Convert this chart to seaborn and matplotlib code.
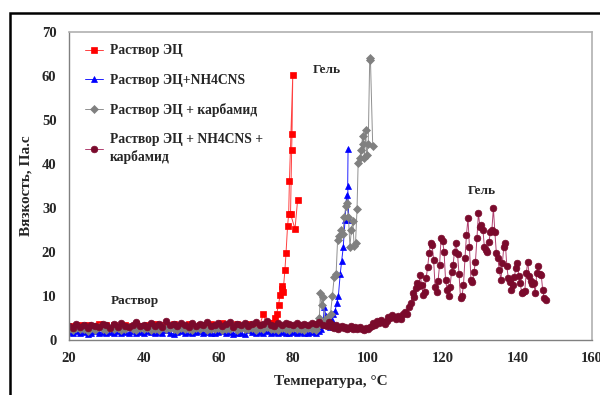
import matplotlib
matplotlib.use("Agg")
import matplotlib.pyplot as plt
from matplotlib.patches import Rectangle
import seaborn as sns
import pandas as pd

# ---------------- data ----------------
series_names = ["Раствор ЭЦ", "Раствор ЭЦ+NH4CNS", "Раствор ЭЦ + карбамид",
                "Раствор ЭЦ + NH4CNS +\nкарбамид"]

t_red = [20, 21, 22, 23, 24, 25, 26, 27, 28, 29,
         30, 31, 32, 33, 34, 35, 36, 37, 38, 39,
         40, 41, 42, 43, 44, 45, 46, 47, 48, 49,
         50, 51, 52, 53, 54, 55, 56, 57, 58, 59,
         60, 61, 62, 63, 64, 65, 66, 67, 68, 69,
         70, 71, 72, 73, 74,
         74.6, 75.1, 75.6, 76.1, 76.5, 76.9, 77.1, 77.3, 77.8, 78.1,
         78.5, 78.8, 79.0, 79.9, 79.7, 79.6, 79.3, 80.5, 81.2]
v_red = [2.6, 3.1, 2.4, 3.3, 2.8, 3.5, 2.7, 3.2, 3.6, 2.9,
         3.3, 2.6, 3.4, 3.0, 2.8, 3.5, 3.1, 2.7, 3.6, 3.2,
         2.9, 3.4, 3.0, 3.7, 2.8, 3.3, 3.5, 2.9, 3.6, 3.1,
         3.4, 2.8, 3.7, 3.2, 3.0, 3.5, 3.3, 2.9, 3.6, 3.1,
         3.4, 3.8, 3.0, 3.5, 3.2, 3.6, 2.9, 3.4, 3.7, 3.1,
         3.5, 3.3, 5.8, 3.6, 3.9,
         3.8, 5.0, 6.0, 8.0, 10.3, 11.5, 12.3, 10.8, 15.9, 19.8,
         25.8, 28.6, 36.0, 60.2, 46.8, 43.0, 28.6, 25.2, 31.8]

t_blue = [20, 21, 22, 23, 24, 25, 26, 27, 28, 29,
          30, 31, 32, 33, 34, 35, 36, 37, 38, 39,
          40, 41, 42, 43, 44, 45, 46, 47, 48, 49,
          50, 51, 52, 53, 54, 55, 56, 57, 58, 59,
          60, 61, 62, 63, 64, 65, 66, 67, 68, 69,
          70, 71, 72, 73, 74, 75, 76, 77, 78, 79,
          80, 81, 82, 83, 84, 85, 86, 87,
          87.5, 88.0, 88.3, 88.8, 89.3, 89.8, 90.3, 90.7, 91.2, 91.7,
          92.1, 92.6, 93.0, 93.4, 93.9, 94.3, 94.9, 94.6, 94.7]
v_blue = [1.8, 1.5, 2.0, 1.6, 1.9, 1.4, 1.7, 2.1, 1.6, 1.8,
          1.5, 1.9, 1.7, 2.0, 1.6, 1.8, 1.5, 2.1, 1.7, 1.9,
          1.6, 2.0, 1.8, 1.5, 1.9, 1.7, 2.2, 1.6, 1.4, 1.8,
          2.0, 1.7, 1.9, 1.5, 1.8, 2.1, 1.6, 1.9, 1.7, 1.5,
          1.8, 2.0, 1.6, 1.9, 1.4, 1.7, 1.5, 1.3, 2.2, 1.8,
          1.6, 1.9, 1.7, 2.0, 1.5, 1.8, 1.6, 1.9, 1.7, 1.5,
          1.8, 1.6, 1.9, 1.7, 1.5, 1.8, 1.6, 2.0,
          2.6, 3.5, 7.4, 5.5, 3.6, 3.0, 4.5, 6.0, 6.5, 8.5,
          9.9, 15.0, 18.0, 21.0, 27.3, 33.0, 27.3, 35.0, 43.4]

t_gray = [20, 21, 22, 23, 24, 25, 26, 27, 28, 29,
          30, 31, 32, 33, 34, 35, 36, 37, 38, 39,
          40, 41, 42, 43, 44, 45, 46, 47, 48, 49,
          50, 51, 52, 53, 54, 55, 56, 57, 58, 59,
          60, 61, 62, 63, 64, 65, 66, 67, 68, 69,
          70, 71, 72, 73, 74, 75, 76, 77, 78, 79,
          80, 81, 82, 83, 84, 85, 86,
          86.5, 87.0, 87.3, 87.6, 88.0, 88.5, 89.0, 89.5, 90.0, 90.5,
          91.0, 91.5, 91.9, 92.3, 92.8, 93.3, 93.7, 94.1, 94.4, 94.8,
          95.2, 95.6, 96.0, 96.3, 96.7, 97.1, 97.4, 97.8, 98.2, 98.6,
          98.8, 99.1, 99.4, 99.7, 100.1, 100.5, 100.7, 101.3]
v_gray = [2.5, 2.2, 2.8, 2.4, 2.6, 2.1, 2.7, 2.3, 2.9, 2.5,
          2.2, 2.7, 2.4, 2.8, 2.3, 2.6, 2.9, 2.4, 2.2, 2.7,
          2.5, 2.8, 2.3, 2.6, 2.2, 2.9, 2.4, 2.7, 2.5, 2.3,
          2.8, 2.4, 2.6, 2.2, 2.7, 2.5, 2.9, 2.3, 2.6, 2.4,
          2.8, 2.2, 2.6, 2.5, 2.9, 2.3, 2.7, 2.4, 2.6, 2.8,
          2.3, 2.7, 2.5, 2.9, 2.4, 2.6, 2.2, 2.8, 2.5, 2.3,
          2.7, 2.4, 2.6, 2.2, 2.8, 2.5, 2.3,
          3.0, 5.0, 10.6, 8.0, 9.8, 4.2, 5.0, 3.5, 6.0, 10.0,
          14.4, 15.0, 22.7, 23.5, 25.0, 24.0, 28.0, 30.3, 31.0, 28.0,
          21.2, 25.0, 27.0, 21.4, 22.0, 29.7, 40.2, 41.3, 43.0, 46.2,
          44.5, 41.4, 47.6, 42.0, 44.5, 64.0, 63.5, 44.0]

t_mar = [20, 21, 22, 23, 24, 25, 26, 27, 28, 29,
         30, 31, 32, 33, 34, 35, 36, 37, 38, 39,
         40, 41, 42, 43, 44, 45, 46, 47, 48, 49,
         50, 51, 52, 53, 54, 55, 56, 57, 58, 59,
         60, 61, 62, 63, 64, 65, 66, 67, 68, 69,
         70, 71, 72, 73, 74, 75, 76, 77, 78, 79,
         80, 81, 82, 83, 84, 85, 86, 87, 88,
         89, 89.5, 90, 90.5, 91, 91.5, 92, 92.5, 93, 93.5,
         94, 94.5, 95, 95.5, 96, 96.5, 97, 97.5, 98, 98.5,
         99, 99.5, 100, 100.5, 101, 101.5, 102, 102.5, 103, 103.5,
         104, 104.5, 105, 105.5, 106, 106.5, 107, 107.5, 108, 108.5,
         109, 109.5, 110, 110.5, 111, 111.5,
         112.0, 112.4, 112.8, 113.2, 113.6, 114.0, 114.4, 114.8, 115.2, 115.6,
         116.0, 116.4, 116.8, 117.2, 117.6, 118.0, 118.4, 118.8, 119.2, 119.6,
         120.0, 120.4, 120.8, 121.2, 121.6, 122.0, 122.4, 122.8, 123.2, 123.6,
         124.0, 124.4, 124.8, 125.2, 125.6, 126.0, 126.4, 126.8, 127.2, 127.6,
         128.0, 128.4, 128.8, 129.2, 129.6, 130.0, 130.4, 130.8, 131.2, 131.6,
         132.0, 132.4, 132.8, 133.2, 133.6, 134.0, 134.4, 134.8, 135.2, 135.6,
         136.0, 136.4, 136.8, 137.2, 137.6, 138.0, 138.4, 138.8, 139.2, 139.6,
         140.0, 140.4, 140.8, 141.2, 141.6, 142.0, 142.4, 142.8, 143.2, 143.6,
         144.0, 144.4, 144.8, 145.2, 145.6, 146.0, 146.4, 146.8, 147.2, 147.6]
v_mar = [3.2, 2.8, 3.6, 3.0, 3.4, 2.7, 3.5, 3.1, 2.9, 3.7,
         3.3, 2.8, 3.6, 3.0, 3.9, 3.2, 2.9, 3.5, 4.1, 3.1,
         3.4, 3.0, 3.8, 3.2, 3.6, 2.9, 4.4, 3.3, 3.7, 3.1,
         3.9, 3.4, 3.0, 3.8, 3.2, 3.6, 3.3, 4.0, 3.1, 3.5,
         3.8, 3.2, 3.6, 4.1, 3.0, 3.7, 3.4, 3.9, 3.2, 3.6,
         4.0, 3.3, 3.7, 4.3, 3.5, 3.1, 3.8, 3.4, 3.9, 3.6,
         3.5, 3.9, 3.3, 3.7, 3.4, 3.8, 3.6, 4.0, 3.5,
         3.2, 4.0, 3.6, 3.0, 2.8, 3.3, 2.6, 2.9, 3.1, 2.7,
         3.0, 2.5, 2.8, 3.2, 2.6, 2.9, 2.4, 2.7, 3.0, 2.5,
         2.3, 2.8, 2.6, 3.0, 3.2, 3.8, 3.3, 4.2, 3.9, 4.5,
         4.0, 3.6, 4.4, 5.3, 4.9, 5.6, 5.2, 4.8, 5.5, 5.0,
         4.7, 5.8, 6.4, 6.0, 7.6, 8.4,
         10.6, 9.8, 11.7, 13.0, 12.2, 14.8, 12.5, 10.2, 11.0, 14.0,
         16.5, 19.7, 22.0, 21.5, 18.2, 12.1, 11.0, 13.5, 17.0, 23.1,
         22.5, 20.0, 13.6, 11.4, 9.9, 12.0, 15.5, 17.0, 20.0, 22.0,
         19.5, 15.0, 9.5, 10.0, 12.5, 18.6, 23.9, 27.6, 21.0, 13.6,
         13.2, 15.5, 17.8, 23.1, 28.8, 25.6, 26.2, 25.0, 21.0, 20.5,
         20.0, 22.3, 24.5, 25.0, 29.9, 24.5, 19.7, 18.5, 15.9, 13.6,
         17.4, 21.2, 22.0, 16.7, 14.0, 13.2, 11.4, 12.5, 14.2, 16.3,
         17.4, 14.6, 12.9, 10.6, 11.0, 11.2, 15.1, 17.8, 14.5, 13.3,
         12.8, 13.0, 10.6, 15.1, 16.8, 15.0, 14.8, 11.4, 9.5, 9.0]

x_ticks = [20, 40, 60, 80, 100, 120, 140, 160]
y_ticks = [0, 10, 20, 30, 40, 50, 60, 70]
x_label = "Температура, °C"
y_label = "Вязкость, Па.с"

# ---------------- style ----------------
sns.set_style("white")
serif = ["Liberation Serif", "DejaVu Serif"]
plt.rcParams["font.family"] = serif
plt.rcParams["font.weight"] = "bold"

fig = plt.figure(figsize=(6.0, 3.95), dpi=100)
ax = fig.add_axes([69 / 600, 1 - 340 / 395, 523 / 600, 308.5 / 395])

styles = [
    dict(color="#FF0000", marker="s", lc="#FF4040", ms=4.4),
    dict(color="#0000FF", marker="^", lc="#2020FF", ms=4.8),
    dict(color="#808080", marker="D", lc="#909090", ms=3.8),
    dict(color="#7A0A2C", marker="o", lc="#B04070", ms=4.8),
]
xs = [t_red, t_blue, t_gray, t_mar]
ys = [v_red, v_blue, v_gray, v_mar]

for name, tx, vy, st in zip(series_names, xs, ys, styles):
    df = pd.DataFrame({"T": tx, "V": vy})
    sns.lineplot(data=df, x="T", y="V", ax=ax, sort=False, estimator=None,
                 color=st["lc"], linewidth=0.7, marker=st["marker"],
                 markersize=st["ms"], markerfacecolor=st["color"],
                 markeredgecolor=st["color"], markeredgewidth=0.5,
                 label=name)

ax.set_xlim(20, 160)
ax.set_ylim(0, 70)
ax.set_xticks(x_ticks)
ax.set_yticks(y_ticks)
ax.tick_params(axis="both", direction="out", length=5, width=1,
               color="#808080", labelsize=10.5, pad=4)
for lab in ax.get_xticklabels() + ax.get_yticklabels():
    lab.set_fontweight("bold")
    lab.set_family(serif)

for side in ["left", "bottom"]:
    ax.spines[side].set_color("#808080")
    ax.spines[side].set_linewidth(1.0)
for side in ["top", "right"]:
    ax.spines[side].set_color("#B0B0B0")
    ax.spines[side].set_linewidth(1.2)

ax.set_xlabel(x_label, fontsize=11, fontweight="bold", family=serif)
ax.set_ylabel(y_label, fontsize=11, fontweight="bold", family=serif)
ax.xaxis.set_label_coords(0.5, -0.115)
ax.yaxis.set_label_coords(-0.07, 0.5)

leg = ax.legend(loc="upper left", bbox_to_anchor=(0.015, 0.985), frameon=False,
                prop={"family": serif, "weight": "bold", "size": 9.8},
                handlelength=1.3, handletextpad=0.55, labelspacing=1.2,
                borderaxespad=0.2)
for txt in leg.get_texts():
    txt.set_linespacing(1.35)

ax.text(89, 61.2, "Гель", fontsize=9.5, fontweight="bold", family=serif,
        ha="center", va="center")
ax.text(130.4, 33.7, "Гель", fontsize=9.5, fontweight="bold", family=serif,
        ha="center", va="center")
ax.text(37.6, 8.8, "Раствор", fontsize=9.5, fontweight="bold", family=serif,
        ha="center", va="center")

# outer black frame (top and left edges visible)
fig.patches.append(Rectangle((10 / 600, -0.05), 1.0, (395 - 13) / 395 + 0.05,
                             transform=fig.transFigure, fill=False,
                             edgecolor="black", linewidth=1.8))

fig.savefig("out.png", dpi=100)
